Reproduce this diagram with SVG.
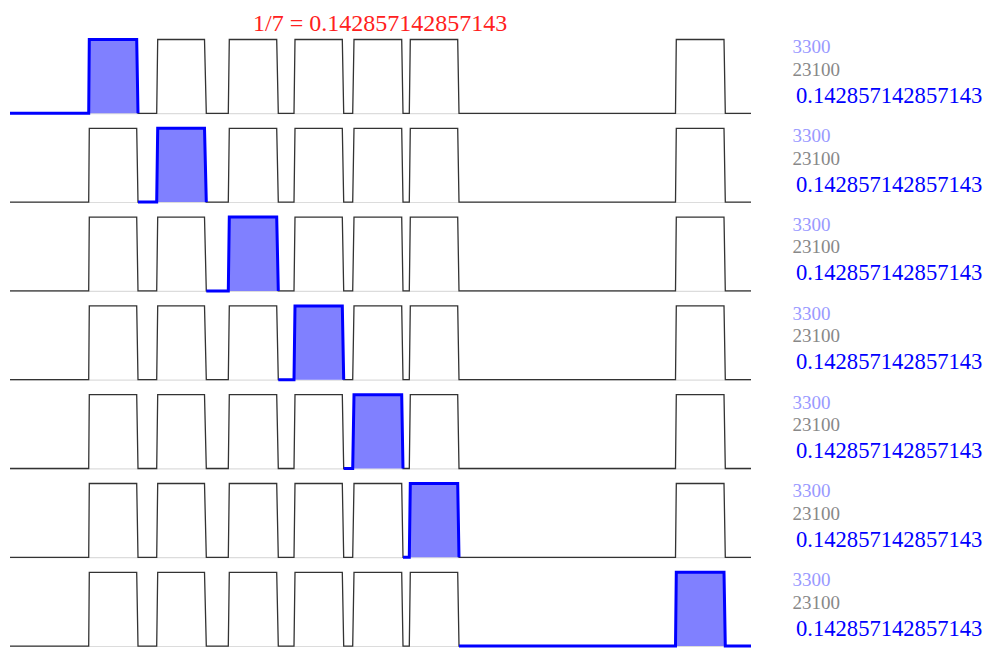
<svg xmlns="http://www.w3.org/2000/svg" xmlns:xlink="http://www.w3.org/1999/xlink" width="997" height="657" viewBox="0 0 997 657">
<style>
.axis{stroke:#dcdcdc;stroke-width:1.2;fill:none}
.wave{stroke:#333;stroke-width:1.3;fill:none;stroke-linejoin:miter}
.hl{stroke:#0000ff;stroke-width:3;fill:#8080ff;stroke-linejoin:miter}
text{font-family:"Liberation Serif","Times New Roman",serif}
.n1{font-size:19px;fill:#9999ff}
.n2{font-size:19px;fill:#888888}
.v{font-size:22.6px;fill:#0000ff}
.title{font-size:24px;fill:#ff2020}
</style>
<defs>
<g id="base">
<line class="axis" x1="10" y1="0.4" x2="751" y2="0.4"/>
<path class="wave" d="M10,0 L88.7,0 L89.3,-73.8 L136.7,-73.8 L138,0 L156.7,0 L157.7,-73.8 L204.5,-73.8 L206.3,0 L228.3,0 L229.3,-73.8 L276.7,-73.8 L278.3,0 L294,0 L295,-73.8 L342.3,-73.8 L343.7,0 L352.7,0 L354,-73.8 L401.7,-73.8 L403,0 L409.3,0 L410.3,-73.8 L457.7,-73.8 L459,0 L675.5,0 L676.3,-73.8 L724,-73.8 L725.3,0 L751,0"/>
<text class="n1" x="792.5" y="-60">3300</text>
<text class="n2" x="792.5" y="-37.6">23100</text>
<text class="v" x="796" y="-10.6">0.142857142857143</text>
</g>
</defs>
<text id="title" class="title" x="253" y="31">1/7 = 0.142857142857143</text>
<g id="row1" transform="translate(0,113.3)">
<use xlink:href="#base"/>
<path class="hl" d="M10,0 L88.7,0 L89.3,-73.8 L136.7,-73.8 L138,0"/>
</g>
<g id="row2" transform="translate(0,202.1)">
<use xlink:href="#base"/>
<path class="hl" d="M138,0 L156.7,0 L157.7,-73.8 L204.5,-73.8 L206.3,0"/>
</g>
<g id="row3" transform="translate(0,290.9)">
<use xlink:href="#base"/>
<path class="hl" d="M206.3,0 L228.3,0 L229.3,-73.8 L276.7,-73.8 L278.3,0"/>
</g>
<g id="row4" transform="translate(0,379.7)">
<use xlink:href="#base"/>
<path class="hl" d="M278.3,0 L294,0 L295,-73.8 L342.3,-73.8 L343.7,0"/>
</g>
<g id="row5" transform="translate(0,468.5)">
<use xlink:href="#base"/>
<path class="hl" d="M343.7,0 L352.7,0 L354,-73.8 L401.7,-73.8 L403,0"/>
</g>
<g id="row6" transform="translate(0,557.3)">
<use xlink:href="#base"/>
<path class="hl" d="M403,0 L409.3,0 L410.3,-73.8 L457.7,-73.8 L459,0"/>
</g>
<g id="row7" transform="translate(0,646.1)">
<use xlink:href="#base"/>
<path class="hl" d="M459,0 L675.5,0 L676.3,-73.8 L724,-73.8 L725.3,0 L751,0"/>
</g>
</svg>
